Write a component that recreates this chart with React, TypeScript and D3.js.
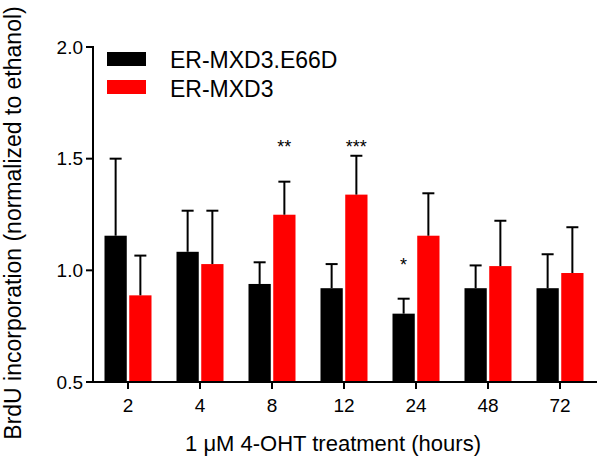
import React from "react";
import * as d3 from "d3";

const groups = ["2", "4", "8", "12", "24", "48", "72"];
const seriesNames = ["ER-MXD3.E66D", "ER-MXD3"];
const seriesColors = ["#000000", "#ff0000"];
const meanE66D = [1.155, 1.083, 0.939, 0.92, 0.806, 0.92, 0.92];
const errE66D = [0.345, 0.184, 0.097, 0.108, 0.067, 0.102, 0.152];
const meanMXD3 = [0.888, 1.028, 1.249, 1.339, 1.155, 1.019, 0.988];
const errMXD3 = [0.178, 0.239, 0.148, 0.174, 0.19, 0.203, 0.205];
const starGroups = ["8", "12", "24"];
const starSeries = ["ER-MXD3", "ER-MXD3", "ER-MXD3.E66D"];
const starLabels = ["**", "***", "*"];
const starLevels = [1.57, 1.57, 1.04];
const yTicks = [0.5, 1.0, 1.5, 2.0];

const W = 600, H = 460;
const FONT = "Liberation Sans, Arial, sans-serif";

export default function App() {
  const x = d3.scaleBand().domain(groups).range([92, 596]);
  const sub = d3.scaleBand().domain(seriesNames).range([-23.5, 23.5]).paddingInner(0.1);
  const y = d3.scaleLinear().domain([0.5, 2.0]).range([382, 47]);
  const means = [meanE66D, meanMXD3];
  const errs = [errE66D, errMXD3];
  const bw = sub.bandwidth();
  const cx = (g: string) => (x(g) as number) + x.bandwidth() / 2;

  return (
    <svg width={W} height={H} style={{ display: "block", position: "absolute", left: 0, top: 0, background: "#fff" }}>
      <rect width={W} height={H} fill="#fff" />
      {/* bars */}
      {seriesNames.map((s, si) =>
        groups.map((g, gi) => {
          const bx = cx(g) + (sub(s) as number);
          const v = means[si][gi];
          const e = errs[si][gi];
          const mid = bx + bw / 2;
          return (
            <g key={s + g}>
              <rect x={bx} y={y(v)} width={bw} height={y(0.5) - y(v)} fill={seriesColors[si]} />
              <line x1={mid} x2={mid} y1={y(v)} y2={y(v + e)} stroke="#000" strokeWidth={2} />
              <line x1={mid - 6} x2={mid + 6} y1={y(v + e)} y2={y(v + e)} stroke="#000" strokeWidth={2} />
            </g>
          );
        })
      )}
      {/* significance stars */}
      {starGroups.map((g, i) => {
        const mid = cx(g) + (sub(starSeries[i]) as number) + bw / 2;
        return (
          <text key={g} x={mid} y={y(starLevels[i]) + 10} textAnchor="middle" fontFamily={FONT} fontSize={18} fill="#000">
            {starLabels[i]}
          </text>
        );
      })}
      {/* y axis */}
      <line x1={93} x2={93} y1={y(2.0) - 1} y2={y(0.5) + 1} stroke="#000" strokeWidth={2} />
      {yTicks.map((t) => (
        <g key={t}>
          <line x1={86} x2={93} y1={y(t)} y2={y(t)} stroke="#000" strokeWidth={2} />
          <text x={83} y={y(t)} dy="0.35em" textAnchor="end" fontFamily={FONT} fontSize={19} fill="#000">
            {d3.format(".1f")(t)}
          </text>
        </g>
      ))}
      {/* x axis */}
      <line x1={92} x2={597} y1={382} y2={382} stroke="#000" strokeWidth={2} />
      {groups.map((g) => (
        <g key={g}>
          <line x1={cx(g)} x2={cx(g)} y1={382} y2={389} stroke="#000" strokeWidth={2} />
          <text x={cx(g)} y={412} textAnchor="middle" fontFamily={FONT} fontSize={19} fill="#000">
            {g}
          </text>
        </g>
      ))}
      {/* axis titles */}
      <text x={333} y={451} textAnchor="middle" fontFamily={FONT} fontSize={22} fill="#000">
        1 μM 4-OHT treatment (hours)
      </text>
      <text transform="translate(21,223) rotate(-90)" textAnchor="middle" fontFamily={FONT} fontSize={23} fill="#000">
        BrdU incorporation (normalized to ethanol)
      </text>
      {/* legend */}
      {seriesNames.map((s, i) => (
        <g key={s}>
          <rect x={107} y={52 + i * 28} width={39} height={14} fill={seriesColors[i]} />
          <text x={170} y={68 + i * 28.5} fontFamily={FONT} fontSize={23} fill="#000">
            {s}
          </text>
        </g>
      ))}
    </svg>
  );
}
